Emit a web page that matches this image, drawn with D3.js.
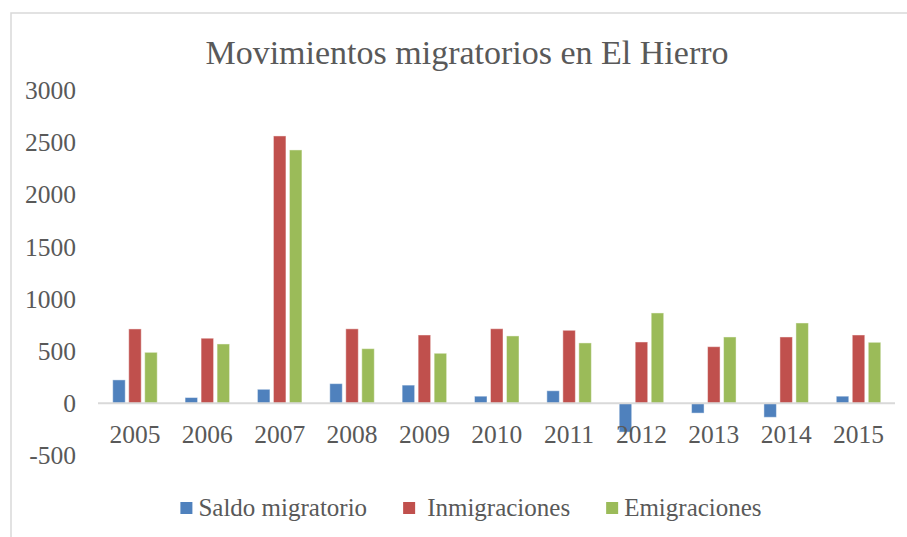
<!DOCTYPE html>
<html>
<head>
<meta charset="utf-8">
<script src="https://cdn.jsdelivr.net/npm/d3@7"></script>
<style>
  body { margin: 0; background: #fff; }
  svg text { font-family: "Liberation Serif", "DejaVu Serif", serif; fill: #595959; }
</style>
</head>
<body>
<svg id="chart" width="907" height="537"></svg>
<script>
// datos
const years = ["2005", "2006", "2007", "2008", "2009", "2010", "2011", "2012", "2013", "2014", "2015"];
const series = ["Saldo migratorio", "Inmigraciones", "Emigraciones"];
const saldo = [224, 55, 134, 188, 174, 68, 120, -276, -94, -134, 68];
const inmigraciones = [712, 623, 2560, 713, 654, 714, 699, 587, 542, 635, 654];
const emigraciones = [488, 568, 2426, 523, 479, 645, 578, 865, 635, 769, 584];
const yTicks = [-500, 0, 500, 1000, 1500, 2000, 2500, 3000];
const colors = ["#4F81BD", "#C0504D", "#9BBB59"];

const svg = d3.select("#chart");

// marco del grafico
svg.append("path")
    .attr("d", "M11,537V13H907")
    .attr("fill", "none")
    .attr("stroke", "#d9d9d9")
    .attr("stroke-width", 1.5);

// titulo
svg.append("text")
    .attr("x", 467)
    .attr("y", 64)
    .attr("text-anchor", "middle")
    .style("font-size", "34px")
    .text("Movimientos migratorios en El Hierro");

const x0 = d3.scaleBand()
    .domain(years)
    .range([98.8, 894.7])
    .paddingInner(0.385)
    .paddingOuter(0.1925);

const x1 = d3.scaleBand()
    .domain(series)
    .range([0, x0.bandwidth()])
    .paddingInner(0.219);

const y = d3.scaleLinear()
    .domain([-500, 3000])
    .range([455.5, 90]);

const color = d3.scaleOrdinal().domain(series).range(colors);

// etiquetas del eje Y (sin linea)
svg.append("g")
    .selectAll("text")
    .data(yTicks)
    .enter().append("text")
    .attr("x", 76)
    .attr("y", d => y(d))
    .attr("dy", "0.35em")
    .attr("text-anchor", "end")
    .style("font-size", "25.5px")
    .text(d => d);

// barras
const rows = years.map((yr, i) => ({
  year: yr,
  values: [saldo[i], inmigraciones[i], emigraciones[i]].map((v, j) => ({ key: series[j], value: v }))
}));

const groups = svg.append("g")
    .selectAll("g")
    .data(rows)
    .enter().append("g")
    .attr("transform", d => "translate(" + x0(d.year) + ",0)");

groups.selectAll("rect")
    .data(d => d.values)
    .enter().append("rect")
    .attr("x", d => x1(d.key))
    .attr("width", x1.bandwidth())
    .attr("y", d => y(Math.max(0, d.value)))
    .attr("height", d => Math.abs(y(d.value) - y(0)))
    .attr("fill", d => color(d.key))
    .attr("stroke", "#ffffff")
    .attr("stroke-opacity", 0.45)
    .attr("stroke-width", 1);

// linea del cero
svg.append("line")
    .attr("x1", 98)
    .attr("x2", 895)
    .attr("y1", y(0))
    .attr("y2", y(0))
    .attr("stroke", "#d9d9d9")
    .attr("stroke-width", 2);

// etiquetas de los años
svg.append("g")
    .selectAll("text")
    .data(years)
    .enter().append("text")
    .attr("x", d => x0(d) + x0.bandwidth() / 2)
    .attr("y", 443)
    .attr("text-anchor", "middle")
    .style("font-size", "25.5px")
    .text(d => d);

// leyenda
const legend = svg.append("g");
let lx = 0;
series.forEach(function (s, i) {
  const item = legend.append("g").attr("transform", "translate(" + lx + ",0)");
  item.append("rect")
      .attr("x", 0)
      .attr("y", 502)
      .attr("width", 12)
      .attr("height", 12)
      .attr("fill", colors[i]);
  const t = item.append("text")
      .attr("x", i === 1 ? 24 : 18)
      .attr("y", 516)
      .style("font-size", "25px")
      .text(s);
  lx += (i === 1 ? 24 : 18) + t.node().getComputedTextLength() + 36;
});
const lw = lx - 36;
legend.attr("transform", "translate(" + (471 - lw / 2) + ",0)");
</script>
</body>
</html>
